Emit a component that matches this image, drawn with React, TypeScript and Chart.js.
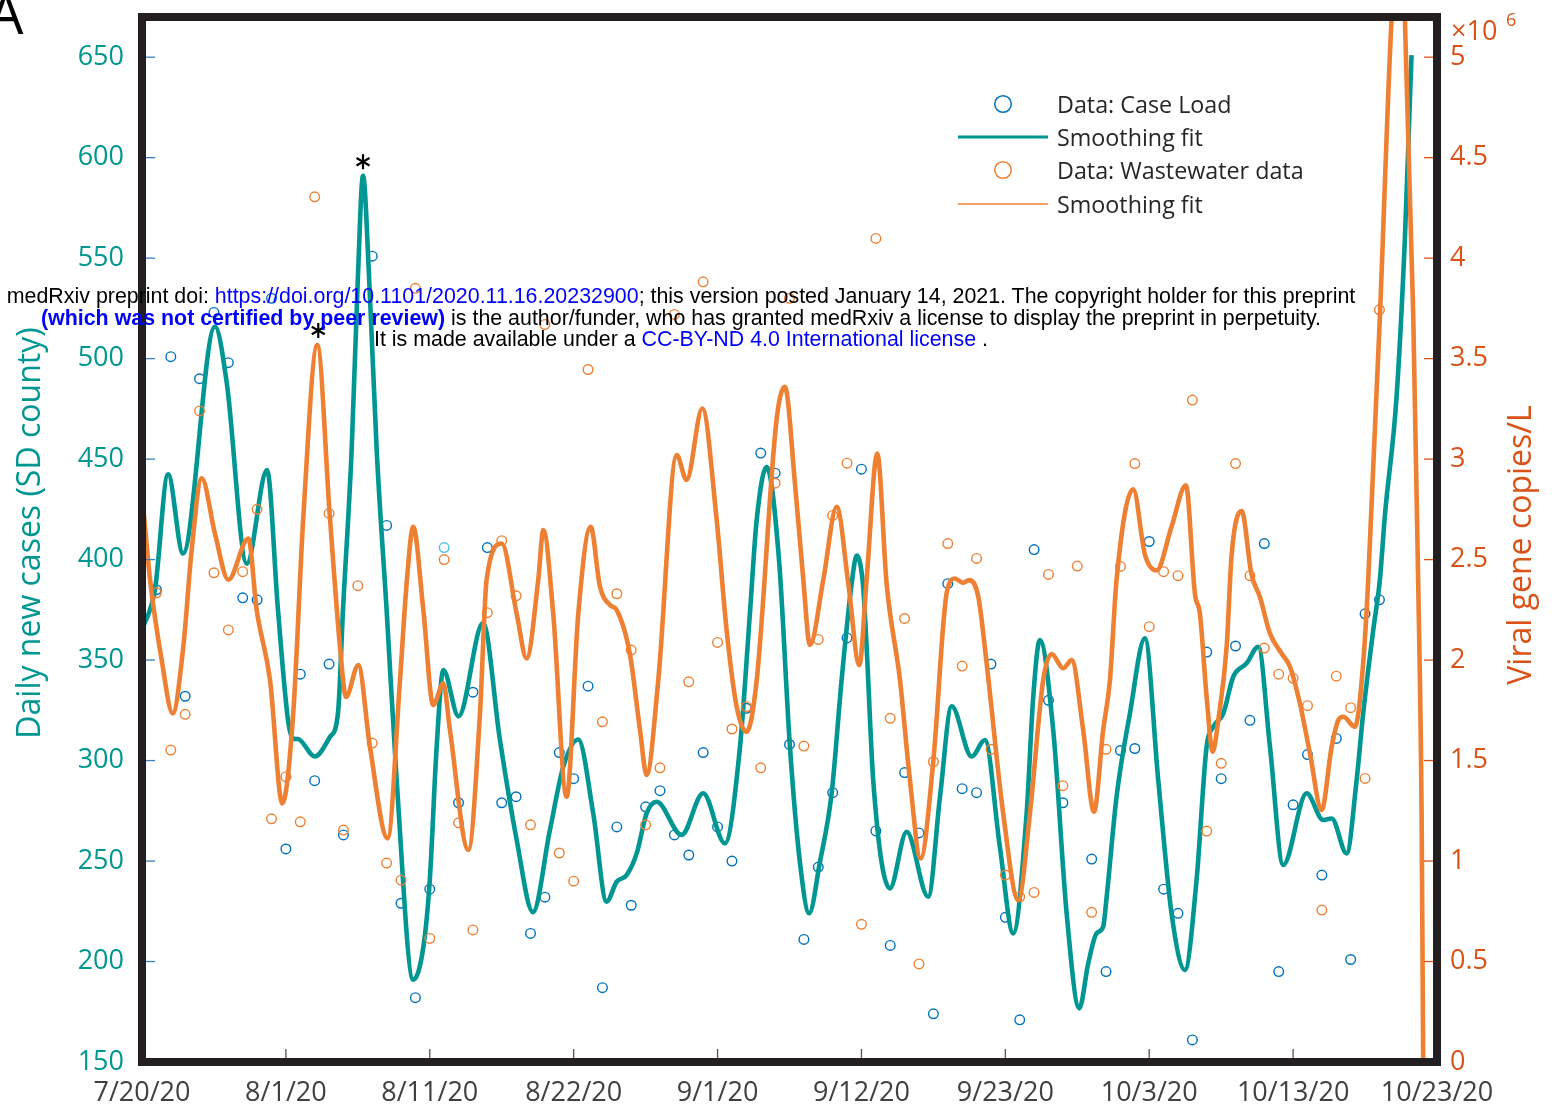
import React, { useEffect, useRef } from 'react';
import { Chart, registerables } from 'chart.js';

Chart.register(...registerables);

const FONT = '"Open Sans", "Noto Sans", sans-serif';

// ---- axes ----
const xTickDays = [0, 10, 20, 30, 40, 50, 60, 70, 80, 90];
const xTickLabels = ['7/20/20', '8/1/20', '8/11/20', '8/22/20', '9/1/20', '9/12/20', '9/23/20', '10/3/20', '10/13/20', '10/23/20'];
const leftTicks = [150, 200, 250, 300, 350, 400, 450, 500, 550, 600, 650];
const rightTicks = [0, 0.5, 1, 1.5, 2, 2.5, 3, 3.5, 4, 4.5, 5];

// ---- case load data (daily new cases, SD county); x = days since 7/20/20 ----
const caseDays = [1, 2, 3, 4, 5, 6, 7, 8, 9, 10, 11, 12, 13, 14, 16, 17, 18, 19, 20, 21, 22, 23, 24, 25, 26, 27, 28, 29, 30,
  31, 32, 33, 34, 35, 36, 37, 38, 39, 40, 41, 42, 43, 44, 45, 46, 47, 48, 49, 50, 51, 52, 53, 54, 55, 56, 57, 58, 59, 60,
  61, 62, 63, 64, 66, 67, 68, 69, 70, 71, 72, 73, 74, 75, 76, 77, 78, 79, 80, 81, 82, 83, 84, 85, 86];
const caseValues = [385, 501, 332, 490, 523, 498, 381, 380, 530, 256, 343, 290, 348, 263, 551, 417, 229, 182, 236, 406, 279, 334, 406, 279, 282, 214, 232, 304, 291,
  337, 187, 267, 228, 277, 285, 263, 253, 304, 267, 250, 326, 453, 443, 308, 211, 247, 284, 361, 445, 265, 208, 294, 264, 174, 388, 286, 284, 348, 222,
  171, 405, 330, 279, 251, 195, 305, 306, 409, 236, 224, 161, 354, 291, 357, 320, 408, 195, 278, 303, 243, 311, 201, 373, 380];
const caseHighlightDays = [21];

// ---- wastewater data (viral gene copies/L, x10^6) ----
const wasteDays = [1, 2, 3, 4, 5, 6, 7, 8, 9, 10, 11, 12, 13, 14, 15, 16, 17, 18, 19, 20, 21, 22, 23, 24, 25, 26, 27, 28, 29, 30,
  31, 32, 33, 34, 35, 36, 37, 38, 39, 40, 41, 42, 43, 44, 45, 46, 47, 48, 49, 50, 51, 52, 53, 54, 55, 56, 57, 58, 59, 60,
  61, 62, 63, 64, 65, 66, 67, 68, 69, 70, 71, 72, 73, 74, 75, 76, 77, 78, 79, 80, 81, 82, 83, 84, 85, 86];
const wasteValues = [2.335, 1.552, 1.73, 3.24, 2.434, 2.15, 2.44, 2.75, 1.21, 1.42, 1.195, 4.305, 2.73, 1.154, 2.37, 1.587, 0.99, 0.905, 3.85, 0.615,
  2.5, 1.19, 0.657, 2.236, 2.594, 2.32, 1.18, 3.67, 1.04, 0.9, 3.446, 1.693, 2.33, 2.05, 1.18, 1.464, 3.72, 1.892, 3.882, 2.088,
  1.657, 1.768, 1.464, 2.88, 3.8, 1.572, 2.103, 2.72, 2.98, 0.685, 4.098, 1.71, 2.207, 0.488, 1.494, 2.58, 1.97, 2.506, 1.556, 0.93,
  0.822, 0.844, 2.426, 1.375, 2.468, 0.745, 1.556, 2.466, 2.978, 2.166, 2.44, 2.42, 3.294, 1.149, 1.486, 2.978, 2.42, 2.06, 1.93, 1.909,
  1.773, 0.756, 1.92, 1.763, 1.411, 3.743];

// ---- smoothing fit of case load ----
const caseFitDays = [0, 0.9, 1.81, 2.85, 5.07, 5.89, 7.28, 8.69, 9.45, 10.15, 10.49, 10.84, 12.02, 13.06, 13.62, 13.97, 14.57, 14.99, 15.36,
  15.8, 16.31, 17.0, 17.7, 18.85, 19.55, 20.0, 20.48, 20.94, 22.0, 23.7, 24.88, 26.04, 27.17, 28.35, 29.28, 30.32, 31.36, 32.29, 32.99,
  33.68, 34.38, 35.07, 35.77, 37.5, 39.0, 40.51, 41.56, 42.25, 42.72, 43.41, 44.27, 45.03, 45.73, 46.37, 47.1, 47.93, 48.62, 49.32,
  49.67, 50.12, 50.36, 50.82, 51.98, 53.14, 54.64, 55.46, 56.27, 57.66, 58.58, 59.62, 60.55, 61.48, 61.94, 62.4, 63.33, 64.26, 65.14,
  65.76, 66.34, 66.8, 67.04, 67.73, 68.66, 69.7, 70.63, 71.55, 72.48, 73.29, 73.99, 74.45, 75.15, 75.84, 76.77, 77.58, 78.39, 79.31,
  80.94, 82.09, 82.68, 83.72, 84.41, 84.87, 85.57, 86.03, 86.38, 87.19, 87.77, 88.07, 88.23];
const caseFitValues = [365, 385, 442.5, 403, 516, 488, 398, 444.5, 375, 320, 311, 310.7, 302, 311.7, 323.6, 375, 454.5, 537.6, 591,
  537.6, 454.5, 375, 290, 191, 207, 240.5, 307, 345, 322, 368.4, 310, 260.5, 224.6, 265.4, 297, 310.5, 273.7, 229.8, 239.7,
  243, 253.8, 273.7, 279.5, 263, 283.7, 258.8, 306.9, 373.4, 419.7, 446, 400, 307, 249, 224, 249, 283.7, 340, 388,
  402, 386.5, 356.6, 290, 236.4, 264.6, 232.2, 282, 327, 302, 310.2, 257, 214, 273.7, 331.7, 360, 315, 224, 176.7,
  199, 214, 217.3, 232, 282, 323.5, 360.8, 290, 224, 195.8, 240.5, 307, 316.8, 323.5, 341.7, 348.4, 356.6, 307, 248,
  283.7, 270.4, 271.2, 253.8, 290, 323.5, 365, 390, 422, 481, 560, 619, 651];

// ---- smoothing fit of wastewater (x10^6 copies/L) ----
const wasteFitDays = [0, 0.56, 1.37, 2.13, 2.87, 3.45, 4.15, 5.07, 6.0, 7.39, 7.97, 8.9, 9.75, 10.51, 11.21, 12.18, 13.06, 13.76, 14.18,
  15.03, 15.84, 17.07, 17.93, 18.39, 18.85, 19.55, 20.24, 20.94, 21.4, 22.68, 23.49, 23.95, 25.0, 26.04, 26.73, 27.54, 27.89, 28.58,
  29.51, 30.32, 31.18, 31.83, 32.52, 32.99, 33.91, 34.61, 35.07, 35.88, 37.16, 37.85, 38.94, 39.94, 40.63, 41.33, 42.02, 42.72, 44.1,
  44.68, 45.38, 45.96, 46.42, 47.35, 48.28, 49.09, 49.85, 50.36, 51.1, 51.75, 52.68, 53.37, 54.11, 54.99, 55.92, 56.5, 57.03, 57.49,
  58.12, 58.7, 59.85, 60.9, 61.71, 62.63, 63.22, 64.02, 64.61, 65.41, 66.16, 66.8, 67.27, 67.73, 68.89, 69.7, 70.51, 71.55, 72.55,
  73.18, 73.52, 73.99, 74.41, 74.8, 75.38, 75.73, 76.42, 77.11, 77.69, 78.39, 79.2, 79.78, 80.47, 81.17, 81.98, 82.68, 83.14, 83.48,
  84.3, 84.87, 85.22, 86.03, 86.84, 87.3, 87.77, 88.35, 88.69, 88.93, 89.04, 89.2];
const wasteFitValues = [2.83, 2.4, 2.0, 1.735, 2.066, 2.547, 2.904, 2.63, 2.4, 2.605, 2.25, 1.9, 1.287, 1.735, 2.71, 3.567, 2.71, 2.066, 1.817,
  1.975, 1.569, 1.113, 1.9, 2.38, 2.663, 2.25, 1.776, 1.884, 1.652, 1.055, 1.735, 2.4, 2.58, 2.23, 2.008, 2.4, 2.647, 2.23,
  1.32, 2.23, 2.663, 2.365, 2.274, 2.249, 2.03, 1.652, 1.428, 1.9, 3.02, 2.896, 3.252, 2.697, 2.149, 1.768, 1.643, 1.9, 3.194,
  3.36, 2.879, 2.4, 2.075, 2.4, 2.763, 2.38, 1.975, 2.4, 3.028, 2.38, 1.9, 1.403, 1.013, 1.494, 2.332, 2.406, 2.385, 2.398,
  2.315, 1.984, 1.237, 0.806, 1.237, 1.9, 2.03, 1.959, 2.0, 1.652, 1.245, 1.652, 1.9, 2.4, 2.85, 2.525, 2.446, 2.663, 2.87,
  2.328, 2.232, 1.817, 1.544, 1.701, 2.066, 2.525, 2.742, 2.426, 2.315, 2.133, 2.033, 1.967, 1.785, 1.536, 1.254, 1.569, 1.701, 1.718,
  1.668, 1.984, 2.398, 3.71, 5.185, 5.6, 5.185, 3.71, 2.4, 1.237, 0.01, -0.8];

// ---- significance marks (asterisks) ----
const markDays = [12.25, 15.36];
const markValues = [514, 598];

const legendLabels = ['Data: Case Load', 'Smoothing fit', 'Data: Wastewater data', 'Smoothing fit'];
const leftTitle = 'Daily new cases (SD county)';
const rightTitle = 'Viral gene copies/L';

const TEAL = '#009692';
const BLUE = '#0072BD';
const LIGHT_BLUE = '#4DBEEE';
const ORANGE = '#EE8033';
const RIGHT_COLOR = '#D95319';
const LEFT_TICK = '#3a80c0';
const X_COLOR = '#404040';
const FRAME = '#231f20';

const overlayPlugin = {
  id: 'overlay',
  afterDraw(chart: any) {
    const { ctx, chartArea: ca, scales } = chart;
    const xs = scales.x, ys = scales.y, y1s = scales.y1;
    ctx.save();
    const seg = (a: number, b: number, c: number, d: number) => {
      ctx.beginPath(); ctx.moveTo(a, b); ctx.lineTo(c, d); ctx.stroke();
    };
    const TL = 13;
    ctx.lineWidth = 1.3;
    ctx.strokeStyle = LEFT_TICK;
    leftTicks.forEach((v) => { const p = ys.getPixelForValue(v); seg(ca.left, p, ca.left + TL, p); });
    ctx.strokeStyle = RIGHT_COLOR;
    rightTicks.forEach((v) => { const p = y1s.getPixelForValue(v); seg(ca.right, p, ca.right - TL, p); });
    ctx.strokeStyle = '#555555';
    xTickDays.forEach((v) => { const p = xs.getPixelForValue(v); seg(p, ca.bottom, p, ca.bottom - TL); });

    // frame
    ctx.strokeStyle = FRAME;
    ctx.lineWidth = 8;
    ctx.strokeRect(ca.left, ca.top, ca.right - ca.left, ca.bottom - ca.top);

    // asterisks
    ctx.strokeStyle = '#000';
    ctx.lineWidth = 2.2;
    markDays.forEach((d, i) => {
      const cx = xs.getPixelForValue(d), cy = ys.getPixelForValue(markValues[i]);
      const r = 7.5;
      [Math.PI / 2, Math.PI / 6, -Math.PI / 6].forEach((a) => {
        seg(cx - r * Math.cos(a), cy - r * Math.sin(a), cx + r * Math.cos(a), cy + r * Math.sin(a));
      });
    });

    // axis titles
    ctx.textAlign = 'center';
    ctx.textBaseline = 'middle';
    ctx.font = `32px ${FONT}`;
    ctx.fillStyle = TEAL;
    ctx.save(); ctx.translate(31, 533); ctx.rotate(-Math.PI / 2); ctx.fillText(leftTitle, 0, 0); ctx.restore();
    ctx.fillStyle = RIGHT_COLOR;
    ctx.save(); ctx.translate(1522, 545); ctx.rotate(-Math.PI / 2); ctx.fillText(rightTitle, 0, 0); ctx.restore();

    // exponent
    ctx.textAlign = 'left';
    ctx.textBaseline = 'alphabetic';
    ctx.font = `27px ${FONT}`;
    ctx.fillText('\u00d710', 1451, 40);
    ctx.font = `18px ${FONT}`;
    ctx.fillText('6', 1506, 26);

    // legend
    const rows = [104, 137, 170, 204];
    const lx0 = 958, lx1 = 1048, lcx = 1003, ltx = 1057;
    ctx.lineWidth = 1.5;
    ctx.strokeStyle = BLUE;
    ctx.beginPath(); ctx.arc(lcx, rows[0], 8.3, 0, Math.PI * 2); ctx.stroke();
    ctx.strokeStyle = ORANGE;
    ctx.beginPath(); ctx.arc(lcx, rows[2], 8.3, 0, Math.PI * 2); ctx.stroke();
    ctx.lineWidth = 3;
    ctx.strokeStyle = TEAL;
    seg(lx0, rows[1], lx1, rows[1]);
    ctx.lineWidth = 1.5;
    ctx.strokeStyle = ORANGE;
    seg(lx0, rows[3], lx1, rows[3]);
    ctx.fillStyle = '#262626';
    ctx.font = `23.3px ${FONT}`;
    legendLabels.forEach((t, i) => ctx.fillText(t, ltx, rows[i] + 8.5));

    // panel letter
    ctx.fillStyle = '#000';
    ctx.font = `56px ${FONT}`;
    ctx.fillText('A', -12, 34);
    ctx.restore();
  },
};

const noVPad = (s: any) => { s.paddingTop = 0; s.paddingBottom = 0; };

export default function App() {
  const ref = useRef<HTMLCanvasElement | null>(null);
  useEffect(() => {
    if (!ref.current) return;
    const chart = new Chart(ref.current, {
      type: 'line',
      data: {
        datasets: [
          {
            label: legendLabels[0],
            data: caseDays.map((d, i) => ({ x: d, y: caseValues[i] })),
            yAxisID: 'y',
            showLine: false,
            pointRadius: 4.8,
            pointBorderWidth: 1.4,
            pointBackgroundColor: 'rgba(0,0,0,0)',
            pointBorderColor: caseDays.map((d) => (caseHighlightDays.includes(d) ? LIGHT_BLUE : BLUE)),
            order: 4,
          },
          {
            label: legendLabels[1],
            data: caseFitDays.map((d, i) => ({ x: d, y: caseFitValues[i] })),
            yAxisID: 'y',
            borderColor: TEAL,
            borderWidth: 4.6,
            pointRadius: 0,
            cubicInterpolationMode: 'monotone',
            fill: false,
            order: 3,
          },
          {
            label: legendLabels[2],
            data: wasteDays.map((d, i) => ({ x: d, y: wasteValues[i] })),
            yAxisID: 'y1',
            showLine: false,
            pointRadius: 4.8,
            pointBorderWidth: 1.4,
            pointBackgroundColor: 'rgba(0,0,0,0)',
            pointBorderColor: ORANGE,
            order: 2,
          },
          {
            label: legendLabels[3],
            data: wasteFitDays.map((d, i) => ({ x: d, y: wasteFitValues[i] })),
            yAxisID: 'y1',
            borderColor: ORANGE,
            borderWidth: 4.6,
            pointRadius: 0,
            cubicInterpolationMode: 'monotone',
            fill: false,
            order: 1,
          },
        ] as any,
      },
      options: {
        responsive: false,
        animation: false,
        events: [],
        layout: { padding: { top: 17, left: 0, right: 0, bottom: 0 } },
        elements: { line: { capBezierPoints: false } as any },
        plugins: { legend: { display: false }, tooltip: { enabled: false } },
        scales: {
          x: {
            type: 'linear',
            min: 0,
            max: 90,
            grid: { display: false, drawTicks: false },
            border: { display: false },
            afterBuildTicks: (s: any) => { s.ticks = xTickDays.map((v) => ({ value: v })); },
            afterFit: (s: any) => { s.height = 51; s.paddingLeft = 0; s.paddingRight = 0; },
            ticks: {
              autoSkip: false,
              maxRotation: 0,
              minRotation: 0,
              padding: 15,
              color: X_COLOR,
              font: { family: FONT, size: 27 },
              callback: (_v: any, i: number) => xTickLabels[i],
            },
          },
          y: {
            type: 'linear',
            position: 'left',
            min: 150,
            max: 670,
            grid: { display: false, drawTicks: false },
            border: { display: false },
            afterBuildTicks: (s: any) => { s.ticks = leftTicks.map((v) => ({ value: v })); },
            afterFit: (s: any) => { s.width = 142; noVPad(s); },
            ticks: { padding: 18, color: TEAL, font: { family: FONT, size: 27 }, callback: (v: any) => String(v) },
          },
          y1: {
            type: 'linear',
            position: 'right',
            min: 0,
            max: 5.2,
            grid: { display: false, drawTicks: false },
            border: { display: false },
            afterBuildTicks: (s: any) => { s.ticks = rightTicks.map((v) => ({ value: v })); },
            afterFit: (s: any) => { s.width = 122; noVPad(s); },
            ticks: { padding: 13, color: RIGHT_COLOR, font: { family: FONT, size: 27 }, callback: (v: any) => String(v) },
          },
        } as any,
      },
      plugins: [overlayPlugin],
    });
    return () => chart.destroy();
  }, []);

  const blue = { color: '#0000ff' };
  return (
    <div style={{ position: 'absolute', left: 0, top: 0, width: 1559, height: 1113, overflow: 'hidden', background: '#fff' }}>
      <canvas ref={ref} width={1559} height={1113} style={{ width: 1559, height: 1113, display: 'block' }} />
      <div
        style={{
          position: 'absolute', left: 0, top: 286, width: 1362, textAlign: 'center',
          fontFamily: '"Liberation Sans", Arial, sans-serif', fontSize: 21.4, lineHeight: '21.5px',
          whiteSpace: 'nowrap', color: '#000',
        }}
      >
        <div>medRxiv preprint doi: <span style={blue}>https://doi.org/10.1101/2020.11.16.20232900</span>; this version posted January 14, 2021. The copyright holder for this preprint</div>
        <div><span style={{ ...blue, fontWeight: 'bold' }}>(which was not certified by peer review)</span> is the author/funder, who has granted medRxiv a license to display the preprint in perpetuity.</div>
        <div>It is made available under a <span style={blue}>CC-BY-ND 4.0 International license</span> .</div>
      </div>
    </div>
  );
}
